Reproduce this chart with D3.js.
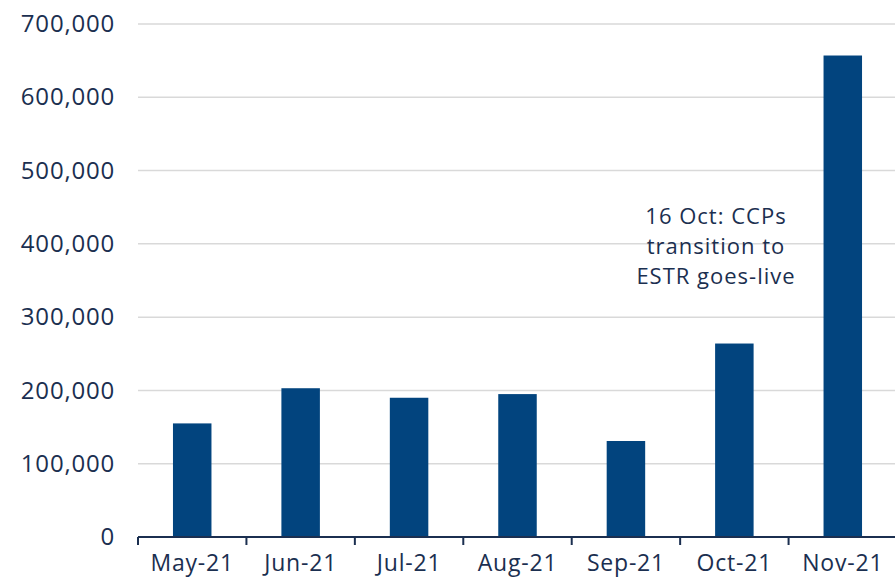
<!DOCTYPE html>
<html>
<head>
<meta charset="utf-8">
<script src="https://cdn.jsdelivr.net/npm/d3@7"></script>
<style>
  body { margin: 0; background: #fff; }
  text { font-family: 'Open Sans', sans-serif; }
</style>
</head>
<body>
<div id="chart"></div>
<script>
const months = ['May-21', 'Jun-21', 'Jul-21', 'Aug-21', 'Sep-21', 'Oct-21', 'Nov-21']
const volumes = [155000, 203000, 190000, 195000, 131000, 264000, 657000]
const yTicks = [0, 100000, 200000, 300000, 400000, 500000, 600000, 700000]
const noteLines = ['16 Oct: CCPs', 'transition to', 'ESTR goes-live']

const width = 895
const height = 580
const margin = { top: 24, left: 138, right: -2, bottom: 43 }
const textColor = '#1b2f50'
const barColor = '#02447e'

const svg = d3
  .select('#chart')
  .append('svg')
  .attr('width', width)
  .attr('height', height)

const x = d3
  .scaleBand()
  .domain(months)
  .range([margin.left, width - margin.right])
  .padding(0)

const y = d3
  .scaleLinear()
  .domain([0, 700000])
  .range([height - margin.bottom, margin.top])

// gridlines
svg
  .append('g')
  .selectAll('line')
  .data(yTicks.filter(d => d > 0))
  .join('line')
  .attr('x1', margin.left)
  .attr('x2', width)
  .attr('y1', d => y(d))
  .attr('y2', d => y(d))
  .attr('stroke', '#d9d9d9')
  .attr('stroke-width', 1.5)

// y axis labels
const yAxis = d3
  .axisLeft(y)
  .tickValues(yTicks)
  .tickFormat(d3.format(','))
  .tickSize(0)
  .tickPadding(23)

svg
  .append('g')
  .attr('transform', 'translate(' + margin.left + ',0)')
  .call(yAxis)
  .call(g => g.select('.domain').remove())
  .selectAll('text')
  .style('font-size', '24px')
  .style('letter-spacing', '0.8px')
  .attr('fill', textColor)

// bars
const barW = x.bandwidth() * 0.355
svg
  .append('g')
  .selectAll('rect')
  .data(volumes)
  .join('rect')
  .attr('x', (d, i) => x(months[i]) + (x.bandwidth() - barW) / 2)
  .attr('y', d => y(d))
  .attr('width', barW)
  .attr('height', d => y(0) - y(d))
  .attr('fill', barColor)

// x axis
const xAxis = d3.axisBottom(x).tickSize(0).tickPadding(18)
const xg = svg
  .append('g')
  .attr('transform', 'translate(0,' + y(0) + ')')
  .call(xAxis)

xg.select('.domain').remove()
xg.selectAll('text')
  .style('font-size', '23px')
  .style('letter-spacing', '0.8px')
  .attr('fill', textColor)

xg.append('line')
  .attr('x1', margin.left)
  .attr('x2', width)
  .attr('stroke', textColor)
  .attr('stroke-width', 2)

xg.selectAll('.sep')
  .data(months)
  .join('line')
  .attr('class', 'sep')
  .attr('x1', d => x(d))
  .attr('x2', d => x(d))
  .attr('y1', 0)
  .attr('y2', 8)
  .attr('stroke', textColor)
  .attr('stroke-width', 2)

// annotation
svg
  .append('g')
  .selectAll('text')
  .data(noteLines)
  .join('text')
  .attr('x', 716)
  .attr('y', (d, i) => 224 + i * 30)
  .attr('text-anchor', 'middle')
  .attr('fill', textColor)
  .style('font-size', '22px')
  .style('letter-spacing', '1px')
  .text(d => d)
</script>
</body>
</html>
